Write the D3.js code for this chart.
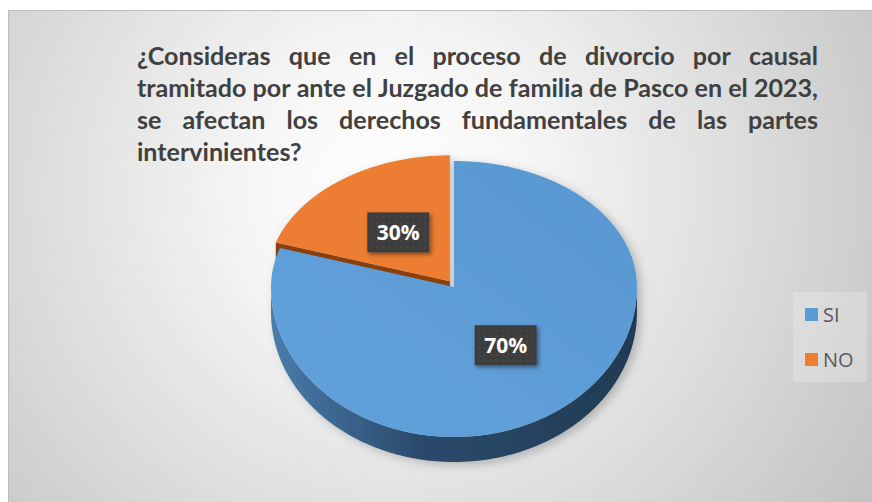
<!DOCTYPE html>
<html>
<head>
<meta charset="utf-8">
<script src="https://cdn.jsdelivr.net/npm/d3@7"></script>
<style>
  body { margin: 0; background: #fff; }
  svg { display: block; }
</style>
</head>
<body>
<svg id="chart" width="872" height="502"></svg>
<script>
// categories and values
const categories = ["SI", "NO"];
// slice sizes as drawn in the picture (the labels print 70% / 30%)
const shares = [80, 20];
const labelText = ["70%", "30%"];
const titleLines = [
  "¿Consideras que en el proceso de divorcio por causal",
  "tramitado por ante el Juzgado de familia de Pasco en el 2023,",
  "se afectan los derechos fundamentales de las partes",
  "intervinientes?"
];

const svg = d3.select("#chart");
const defs = svg.append("defs");

// background gradient
const bg = defs.append("radialGradient")
  .attr("id", "bg").attr("gradientUnits", "userSpaceOnUse")
  .attr("cx", 390).attr("cy", 190).attr("r", 560);
bg.append("stop").attr("offset", "0").attr("stop-color", "#ffffff");
bg.append("stop").attr("offset", "0.25").attr("stop-color", "#f6f6f6");
bg.append("stop").attr("offset", "1").attr("stop-color", "#c4c4c4");

svg.append("rect")
  .attr("x", 8.5).attr("y", 10.5).attr("width", 875).attr("height", 500)
  .attr("fill", "url(#bg)").attr("stroke", "#bdbdbd");

// title, justified like the original
const titleFont = "Lato, 'Open Sans', sans-serif";
const titleLeft = 137, titleRight = 818, titleY = [65, 97, 129, 161];
const titleG = svg.append("g");

function layoutTitle() {
  titleG.selectAll("*").remove();
  // draw every word, then read back the real widths
  const rows = titleLines.map((line, i) => {
    const g = titleG.append("g");
    const words = line.split(" ").map(w => g.append("text")
      .attr("font-family", titleFont).attr("font-weight", "bold").attr("font-size", 24)
      .attr("fill", "#404040").text(w));
    return { g, words, widths: words.map(t => t.node().getBBox().width) };
  });
  const probe = titleG.append("text")
    .attr("font-family", titleFont).attr("font-weight", "bold").attr("font-size", 24)
    .text("a a");
  const w1 = probe.node().getBBox().width;
  probe.text("aa");
  const spaceW = w1 - probe.node().getBBox().width;
  probe.remove();

  const ref = rows[1];
  const refWidth = d3.sum(ref.widths) + spaceW * (ref.widths.length - 1);
  const sx = (titleRight - titleLeft) / refWidth;

  rows.forEach((row, i) => {
    const last = i === rows.length - 1;
    const n = row.words.length;
    const gap = last ? spaceW
      : ((titleRight - titleLeft) / sx - d3.sum(row.widths)) / (n - 1);
    row.g.attr("transform", `translate(${titleLeft},${titleY[i]}) scale(${sx},1)`);
    let x = 0;
    row.words.forEach((t, j) => {
      t.attr("x", x);
      x += row.widths[j] + gap;
    });
  });
}
layoutTitle();
if (document.fonts && document.fonts.ready) document.fonts.ready.then(layoutTitle);

// 3D pie
const cx = 454, cy = 287, rx = 183, ryFar = 126, ryNear = 150, depth = 25;
function pt(a, r = 1, dz = 0) {
  const c = Math.cos(a);
  return [cx + rx * r * Math.sin(a), cy - (c > 0 ? ryFar : ryNear) * r * c + dz];
}
function arcPts(a0, a1, dz = 0) {
  const n = Math.max(2, Math.ceil(Math.abs(a1 - a0) / 0.01));
  return d3.range(n + 1).map(k => pt(a0 + (a1 - a0) * k / n, 1, dz));
}
const line = d3.line();

const pie = d3.pie().sort(null).value(d => d.value);
const arcs = pie(categories.map((c, i) => ({ cat: c, value: shares[i], label: labelText[i] })));

const topColor = { SI: "#5b9bd5", NO: "#ed7d31" };

const sideGrad = defs.append("linearGradient")
  .attr("id", "sideBlue").attr("gradientUnits", "userSpaceOnUse")
  .attr("x1", cx - rx).attr("x2", cx + rx).attr("y1", 0).attr("y2", 0);
sideGrad.append("stop").attr("offset", "0").attr("stop-color", "#4a7cab");
sideGrad.append("stop").attr("offset", "0.4").attr("stop-color", "#2b4b6c");
sideGrad.append("stop").attr("offset", "1").attr("stop-color", "#213a52");

const topGrad = defs.append("linearGradient")
  .attr("id", "topBlue").attr("x1", 0).attr("x2", 1).attr("y1", 1).attr("y2", 0);
topGrad.append("stop").attr("offset", "0").attr("stop-color", "#62a2dc");
topGrad.append("stop").attr("offset", "1").attr("stop-color", "#5897d1");

const shadow = defs.append("filter").attr("id", "pieShadow")
  .attr("x", "-20%").attr("y", "-20%").attr("width", "140%").attr("height", "140%");
shadow.append("feDropShadow").attr("dx", 4).attr("dy", 3).attr("stdDeviation", 5)
  .attr("flood-color", "#000").attr("flood-opacity", 0.22);

const pieG = svg.append("g").attr("filter", "url(#pieShadow)");
const explode = 7;

// exploded slice first, so the blue slice in front hides most of its cut face
arcs.slice().sort((a, b) => (b.data.cat === "NO") - (a.data.cat === "NO")).forEach(d => {
  const mid = (d.startAngle + d.endAngle) / 2;
  const off = d.data.cat === "NO" ? explode : 0;
  const g = pieG.append("g")
    .attr("transform", `translate(${off * Math.sin(mid)},${-off * Math.cos(mid)})`);

  // outer wall on the near half
  const s = Math.max(d.startAngle, Math.PI / 2), e = Math.min(d.endAngle, 3 * Math.PI / 2);
  if (e > s) {
    const pts = arcPts(s, e).concat(arcPts(e, s, depth));
    g.append("path").attr("d", line(pts) + "Z").attr("fill", "url(#sideBlue)");
  }
  // cut face at the start edge of the exploded slice
  if (d.data.cat === "NO") {
    const p = pt(d.startAngle);
    const face = [[cx, cy], p, [p[0], p[1] + depth], [cx, cy + depth]];
    g.append("path").attr("d", line(face) + "Z").attr("fill", "#8a3f0e");
  }
  // top face
  const topPts = [[cx, cy]].concat(arcPts(d.startAngle, d.endAngle));
  g.append("path").attr("d", line(topPts) + "Z")
    .attr("fill", d.data.cat === "SI" ? "url(#topBlue)" : topColor.NO);
});

// data labels
const dots = defs.append("pattern").attr("id", "dots")
  .attr("patternUnits", "userSpaceOnUse").attr("width", 6).attr("height", 6);
dots.append("rect").attr("width", 6).attr("height", 6).attr("fill", "#3d3d3d");
dots.append("circle").attr("cx", 3).attr("cy", 3).attr("r", 0.8).attr("fill", "#565656");

const lblShadow = defs.append("filter").attr("id", "lblShadow")
  .attr("x", "-30%").attr("y", "-30%").attr("width", "160%").attr("height", "160%");
lblShadow.append("feDropShadow").attr("dx", 2).attr("dy", 2).attr("stdDeviation", 2)
  .attr("flood-color", "#000").attr("flood-opacity", 0.45);

arcs.forEach(d => {
  const mid = (d.startAngle + d.endAngle) / 2;
  const off = d.data.cat === "NO" ? explode : 0;
  const p = pt(mid, 0.48);
  const x = p[0] + off * Math.sin(mid), y = p[1] - off * Math.cos(mid);
  const g = svg.append("g").attr("transform", `translate(${x},${y})`);
  const box = g.append("rect").attr("fill", "url(#dots)").attr("filter", "url(#lblShadow)");
  const t = g.append("text")
    .attr("text-anchor", "middle").attr("dy", "0.36em")
    .attr("font-family", "'Open Sans', sans-serif").attr("font-weight", "bold")
    .attr("font-size", 21).attr("fill", "#ffffff")
    .text(d.data.label);
  const w = t.node().getComputedTextLength() + 19;
  box.attr("x", -w / 2).attr("y", -20).attr("width", w).attr("height", 40);
});

// legend
svg.append("rect")
  .attr("x", 793).attr("y", 292).attr("width", 74).attr("height", 90)
  .attr("fill", "#ffffff").attr("fill-opacity", 0.22);
const ly = d3.scalePoint().domain(categories).range([315, 360]);
const leg = svg.selectAll(".legend").data(categories).join("g")
  .attr("class", "legend")
  .attr("transform", d => `translate(805,${ly(d)})`);
leg.append("rect").attr("x", 0).attr("y", -7).attr("width", 13).attr("height", 13)
  .attr("fill", d => topColor[d]);
leg.append("text").attr("x", 18).attr("y", 7)
  .attr("font-family", "'Open Sans', sans-serif").attr("font-size", 20)
  .attr("fill", "#595959")
  .text(d => d);
</script>
</body>
</html>
